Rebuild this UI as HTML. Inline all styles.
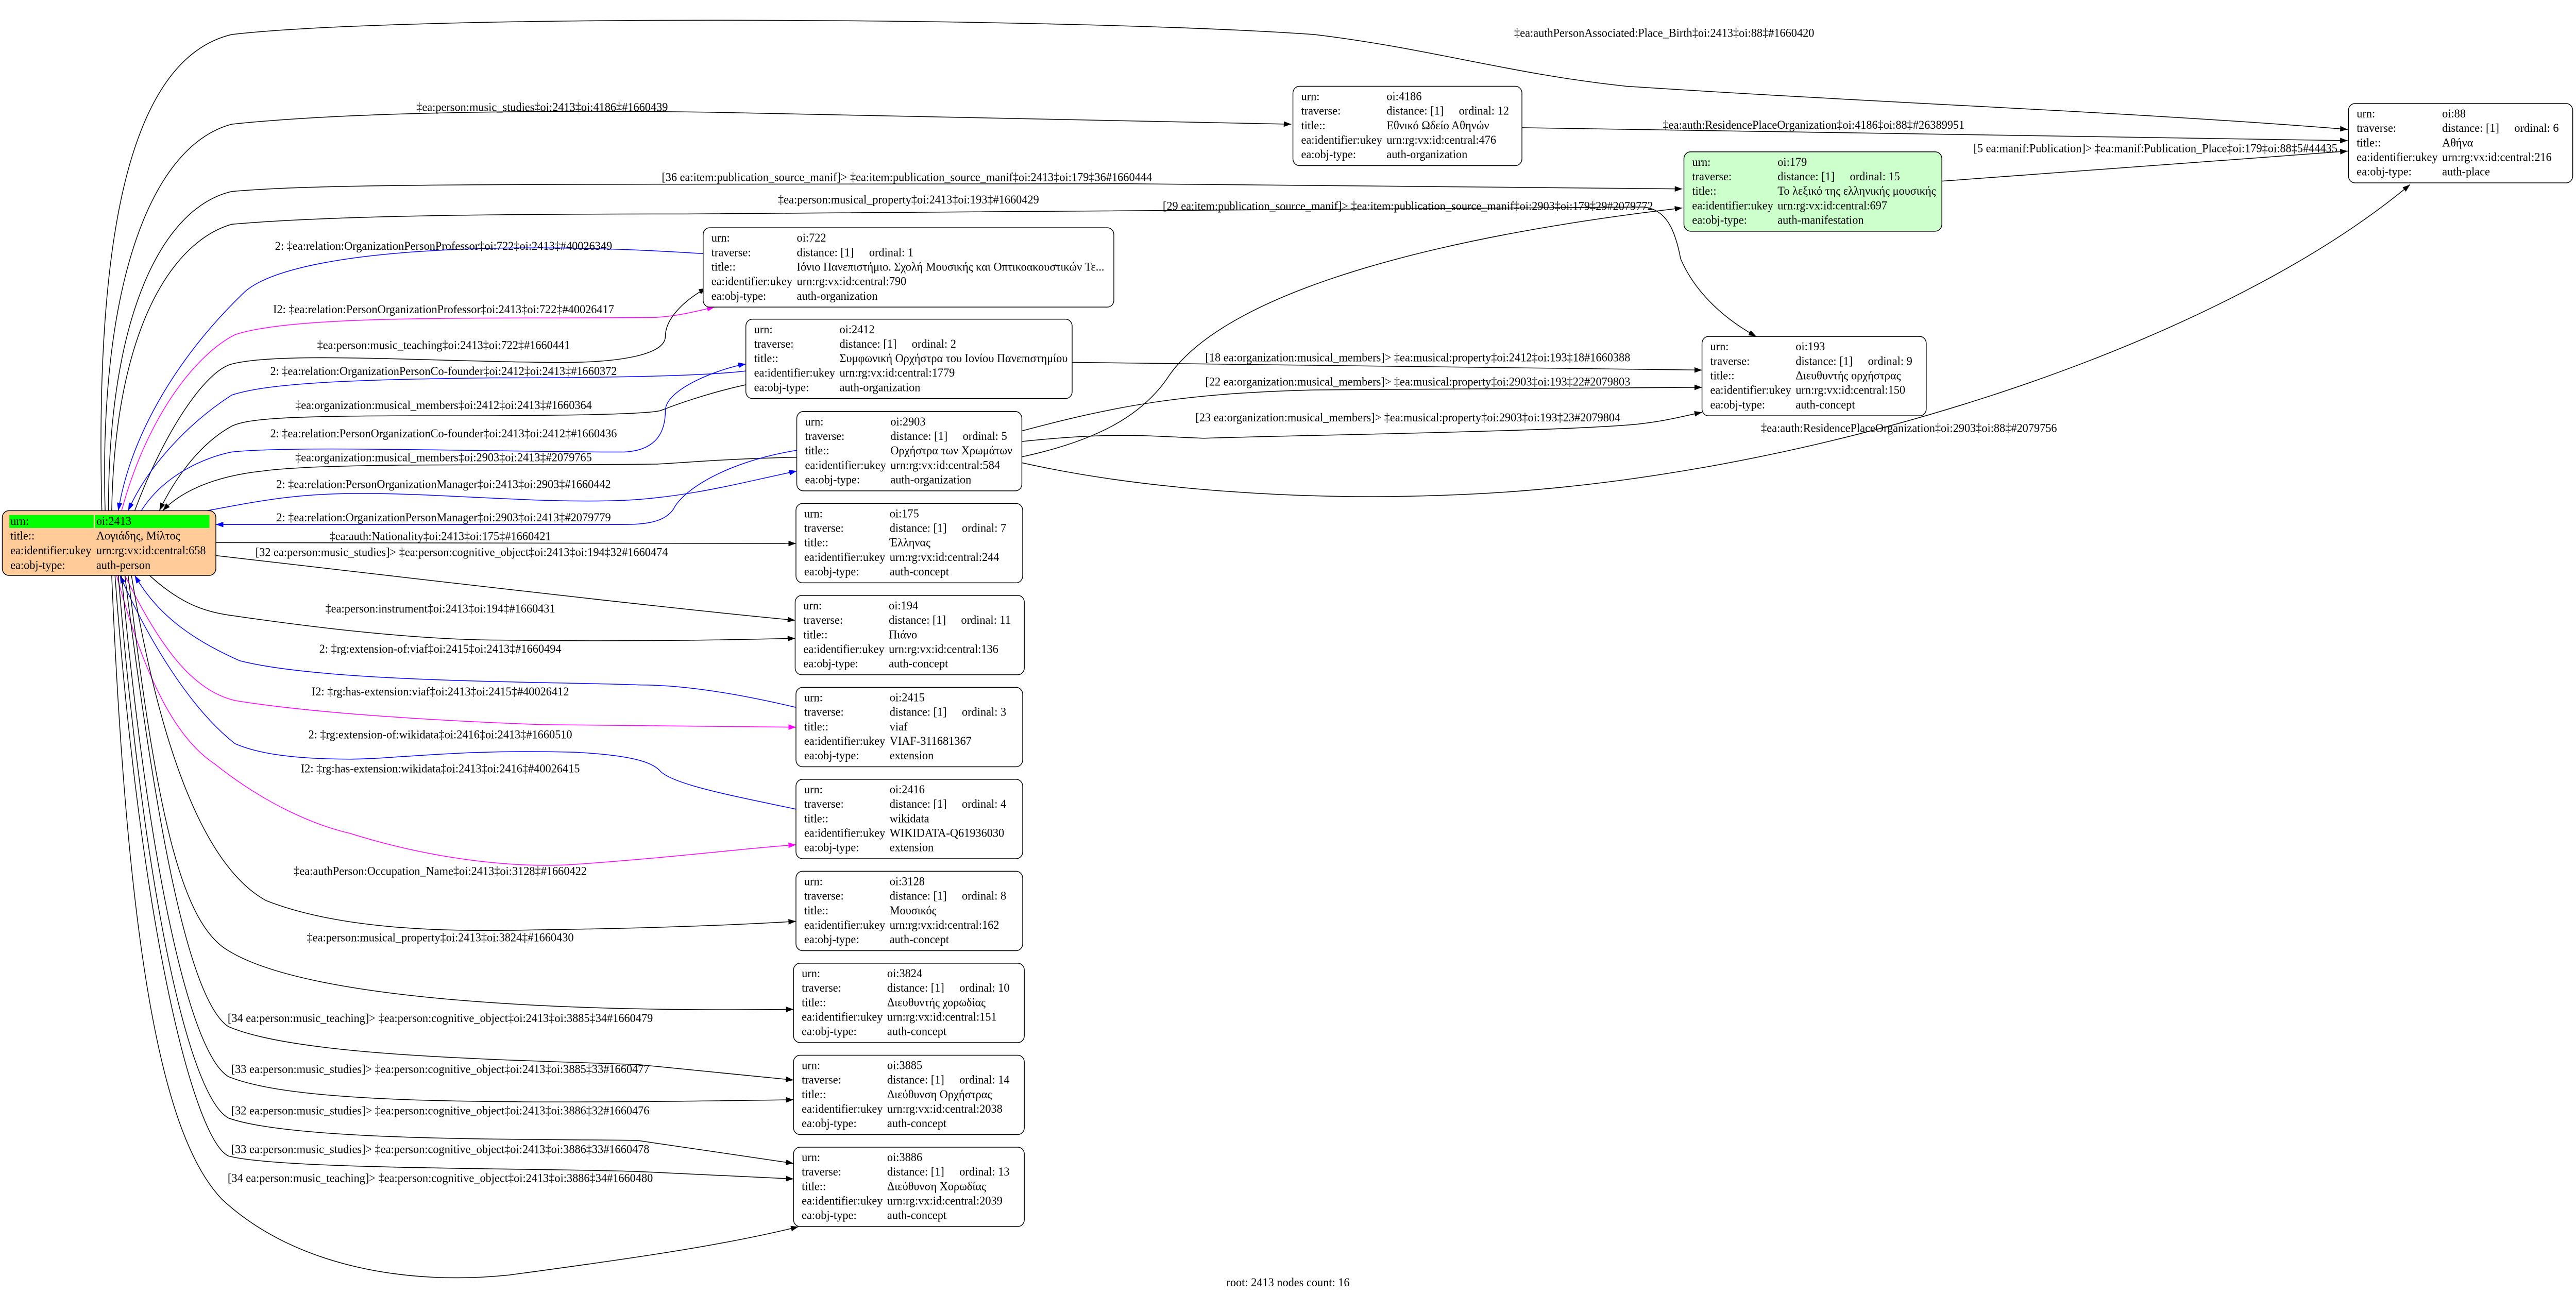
<!DOCTYPE html>
<html><head><meta charset="utf-8"><style>
html,body{margin:0;padding:0;background:#fff;overflow:hidden;width:100%;height:100%;}
svg{display:block;width:100vw;height:100vh;}
text{font-family:"Liberation Serif","DejaVu Serif",serif;font-size:7px;fill:#000;}
.e{fill:none;stroke-width:0.45;}
.k{stroke:#000;}.b{stroke:#0000ff;}.m{stroke:#ff00ff;}
.n{fill:#fff;stroke:#000;stroke-width:0.45;}
.l{text-anchor:middle;}
</style></head><body>
<svg viewBox="0 0 1568 750" preserveAspectRatio="none" xmlns="http://www.w3.org/2000/svg">
<defs>
<marker id="ak" markerUnits="userSpaceOnUse" markerWidth="4.6" markerHeight="3.2" viewBox="0 0 10 7" refX="10" refY="3.5" orient="auto"><path d="M0,0L10,3.5L0,7z" fill="#000"/></marker>
<marker id="ab" markerUnits="userSpaceOnUse" markerWidth="4.6" markerHeight="3.2" viewBox="0 0 10 7" refX="10" refY="3.5" orient="auto"><path d="M0,0L10,3.5L0,7z" fill="#0000ff"/></marker>
<marker id="am" markerUnits="userSpaceOnUse" markerWidth="4.6" markerHeight="3.2" viewBox="0 0 10 7" refX="10" refY="3.5" orient="auto"><path d="M0,0L10,3.5L0,7z" fill="#ff00ff"/></marker>
</defs>
<rect width="1568" height="750" fill="#fff"/>

<path class="e k" marker-end="url(#ak)" d="M62,296 C58,150 75,35 141,20 C250,8 650,10 800,20 C870,28 920,43 990,50 C1150,60 1300,65 1429,75"/>
<text class="l" x="1013" y="21.3">‡ea:authPersonAssociated:Place_Birth‡oi:2413‡oi:88‡#1660420</text>
<path class="e k" marker-end="url(#ak)" d="M64,296 C60,170 90,85 141,72 C220,64 350,64 430,65 L786,72"/>
<text class="l" x="330" y="64.3">‡ea:person:music_studies‡oi:2413‡oi:4186‡#1660439</text>
<path class="e k" marker-end="url(#ak)" d="M926,74 L1429,81.5"/>
<text class="l" x="1104" y="74.7">‡ea:auth:ResidencePlaceOrganization‡oi:4186‡oi:88‡#26389951</text>
<path class="e k" marker-end="url(#ak)" d="M1182,105 L1429,87.6"/>
<text class="l" x="1312" y="88.3">[5 ea:manif:Publication]&gt; ‡ea:manif:Publication_Place‡oi:179‡oi:88‡5#44435</text>
<path class="e k" marker-end="url(#ak)" d="M66,296 C66,180 100,120 141,111 C200,106 320,107 687,106.5 L1024,109.5"/>
<text class="l" x="552" y="105">[36 ea:item:publication_source_manif]&gt; ‡ea:item:publication_source_manif‡oi:2413‡oi:179‡36#1660444</text>
<path class="e k" marker-end="url(#ak)" d="M68,296 C70,190 105,140 141,130 C200,125 300,124 418,124 L1000,120 C1015,121 1020,135 1023,150 C1032,170 1050,185 1069,195"/>
<text class="l" x="553" y="118">‡ea:person:musical_property‡oi:2413‡oi:193‡#1660429</text>
<path class="e k" marker-end="url(#ak)" d="M621,265 C670,255 695,240 710,220 C740,175 850,140 1024,120.5"/>
<text class="l" x="857" y="121.7">[29 ea:item:publication_source_manif]&gt; ‡ea:item:publication_source_manif‡oi:2903‡oi:179‡29#2079772</text>
<path class="e k" marker-end="url(#ak)" d="M652.6,210 L1036,214.5"/>
<text class="l" x="863" y="209.5">[18 ea:organization:musical_members]&gt; ‡ea:musical:property‡oi:2412‡oi:193‡18#1660388</text>
<path class="e k" marker-end="url(#ak)" d="M621,250 C680,235 720,228 800,226 L1036,224.5"/>
<text class="l" x="863" y="223.5">[22 ea:organization:musical_members]&gt; ‡ea:musical:property‡oi:2903‡oi:193‡22#2079803</text>
<path class="e k" marker-end="url(#ak)" d="M621,256 C680,250 700,253 733,254 C800,252 950,250 995,246 C1015,244 1025,241 1036,239"/>
<text class="l" x="857" y="244.3">[23 ea:organization:musical_members]&gt; ‡ea:musical:property‡oi:2903‡oi:193‡23#2079804</text>
<path class="e k" marker-end="url(#ak)" d="M621,268 C700,285 800,290 880,287 C1100,280 1350,200 1467,107"/>
<text class="l" x="1162" y="250.3">‡ea:auth:ResidencePlaceOrganization‡oi:2903‡oi:88‡#2079756</text>

<path class="e b" marker-end="url(#ab)" d="M428,147 C300,139 175,145 148,170 C110,205 80,250 72,296"/>
<text class="l" x="270" y="144.8">2: ‡ea:relation:OrganizationPersonProfessor‡oi:722‡oi:2413‡#40026349</text>
<path class="e m" marker-end="url(#am)" d="M74,296 C90,240 120,205 143,194 C180,182 300,185 399,184 C415,183 425,180 435,178"/>
<text class="l" x="270" y="181.6">I2: ‡ea:relation:PersonOrganizationProfessor‡oi:2413‡oi:722‡#40026417</text>
<path class="e k" marker-end="url(#ak)" d="M82,296 C100,250 125,215 141,211 C170,204 250,209 330,210 C380,211 405,205 405,195 C405,183 420,172 430,167"/>
<text class="l" x="270" y="202.3">‡ea:person:music_teaching‡oi:2413‡oi:722‡#1660441</text>
<path class="e b" marker-end="url(#ab)" d="M454,215 C420,219 330,219 300,219 C200,220 160,223 141,229 C115,245 90,270 78,296"/>
<text class="l" x="270" y="217.3">2: ‡ea:relation:OrganizationPersonCo-founder‡oi:2412‡oi:2413‡#1660372</text>
<path class="e k" marker-end="url(#ak)" d="M454,223 C430,228 410,235 402,238 C390,241 300,241 250,241 C170,241 150,243 141,247 C120,258 105,280 97,296"/>
<text class="l" x="270" y="237">‡ea:organization:musical_members‡oi:2412‡oi:2413‡#1660364</text>
<path class="e b" marker-end="url(#ab)" d="M86,296 C100,275 125,265 141,262 C180,258 300,262 380,262 C400,261 405,250 405,238 C405,225 440,213 454,211"/>
<text class="l" x="270" y="253.5">2: ‡ea:relation:PersonOrganizationCo-founder‡oi:2413‡oi:2412‡#1660436</text>
<path class="e k" marker-end="url(#ak)" d="M485,265 C440,266 420,268 400,269 C300,270 200,268 160,273 C130,276 110,285 99,296"/>
<text class="l" x="270" y="267.3">‡ea:organization:musical_members‡oi:2903‡oi:2413‡#2079765</text>
<path class="e b" marker-end="url(#ab)" d="M126,296 C160,290 180,286 220,286 C270,286 330,292 380,290 C420,288 450,280 485,273"/>
<text class="l" x="270" y="282.9">2: ‡ea:relation:PersonOrganizationManager‡oi:2413‡oi:2903‡#1660442</text>
<path class="e b" marker-end="url(#ab)" d="M485,261 C440,268 415,285 410,295 C405,302 395,304 380,304 L131.4,304"/>
<text class="l" x="270" y="302.1">2: ‡ea:relation:OrganizationPersonManager‡oi:2903‡oi:2413‡#2079779</text>
<path class="e k" marker-end="url(#ak)" d="M131.4,314.5 L484.5,315"/>
<text class="l" x="268" y="313">‡ea:auth:Nationality‡oi:2413‡oi:175‡#1660421</text>
<path class="e k" marker-end="url(#ak)" d="M131.4,322 C250,335 400,352 484,359.5"/>
<text class="l" x="281" y="322.3">[32 ea:person:music_studies]&gt; ‡ea:person:cognitive_object‡oi:2413‡oi:194‡32#1660474</text>
<path class="e k" marker-end="url(#ak)" d="M91,333.5 C110,350 125,355 143,357 C200,365 260,371 305,371 C380,372 440,371 484,370"/>
<text class="l" x="268" y="355">‡ea:person:instrument‡oi:2413‡oi:194‡#1660431</text>
<path class="e b" marker-end="url(#ab)" d="M484.5,410 C440,400 410,397 390,397 C340,395 200,396 146,383 C115,370 95,355 82,333.5"/>
<text class="l" x="268" y="378.3">2: ‡rg:extension-of:viaf‡oi:2415‡oi:2413‡#1660494</text>
<path class="e m" marker-end="url(#am)" d="M76,333.5 C95,370 115,400 143,406 C200,415 300,419 330,420 C400,421 450,421 484.5,421.5"/>
<text class="l" x="268" y="403.1">I2: ‡rg:has-extension:viaf‡oi:2413‡oi:2415‡#40026412</text>
<path class="e b" marker-end="url(#ab)" d="M484.5,469 C450,462 410,455 402,447 C398,443 390,438 350,436 C280,434 240,440 213,440 C175,440 155,436 143,431 C115,410 90,370 73,333.5"/>
<text class="l" x="268" y="428">2: ‡rg:extension-of:wikidata‡oi:2416‡oi:2413‡#1660510</text>
<path class="e m" marker-end="url(#am)" d="M71,333.5 C90,400 110,430 131,443 C160,465 190,478 213,483 C270,500 320,503 350,501 C410,497 450,492 484.5,489.6"/>
<text class="l" x="268" y="447.7">I2: ‡rg:has-extension:wikidata‡oi:2413‡oi:2416‡#40026415</text>
<path class="e k" marker-end="url(#ak)" d="M80,333.5 C95,420 120,500 162,522 C210,540 280,540 324,539 C400,538 450,536 484.5,534"/>
<text class="l" x="268" y="507.1">‡ea:authPerson:Occupation_Name‡oi:2413‡oi:3128‡#1660422</text>
<path class="e k" marker-end="url(#ak)" d="M78,333.5 C95,470 110,535 139,551 C180,575 300,587 483,585"/>
<text class="l" x="268" y="545.7">‡ea:person:musical_property‡oi:2413‡oi:3824‡#1660430</text>
<path class="e k" marker-end="url(#ak)" d="M76,333.5 C95,480 115,580 139,595 C180,612 300,614 388,617 L483,626"/>
<text class="l" x="268" y="592.4">[34 ea:person:music_teaching]&gt; ‡ea:person:cognitive_object‡oi:2413‡oi:3885‡34#1660479</text>
<path class="e k" marker-end="url(#ak)" d="M74,333.5 C90,500 115,610 139,624 C180,640 300,640 483,637.4"/>
<text class="l" x="268" y="621.9">[33 ea:person:music_studies]&gt; ‡ea:person:cognitive_object‡oi:2413‡oi:3885‡33#1660477</text>
<path class="e k" marker-end="url(#ak)" d="M72,333.5 C88,520 115,635 139,648 C180,662 330,660 388,661 L483,674.3"/>
<text class="l" x="268" y="646">[32 ea:person:music_studies]&gt; ‡ea:person:cognitive_object‡oi:2413‡oi:3886‡32#1660476</text>
<path class="e k" marker-end="url(#ak)" d="M70,333.5 C86,540 118,660 139,670 C170,678 330,677 388,679 L483,683.3"/>
<text class="l" x="268" y="668.3">[33 ea:person:music_studies]&gt; ‡ea:person:cognitive_object‡oi:2413‡oi:3886‡33#1660478</text>
<path class="e k" marker-end="url(#ak)" d="M68,333.5 C78,560 100,660 135,695 C180,735 250,745 310,739 C380,730 440,722 486,711"/>
<text class="l" x="268" y="685">[34 ea:person:music_teaching]&gt; ‡ea:person:cognitive_object‡oi:2413‡oi:3886‡34#1660480</text>

<rect x="1.4" y="296" width="130" height="37.5" rx="4" fill="#ffcc99" stroke="#000" stroke-width="0.45"/>
<rect x="5.7" y="298.5" width="51.3" height="7.5" fill="#00ff00"/>
<rect x="57.7" y="298.5" width="69.8" height="7.5" fill="#00ff00"/>
<text x="6.3" y="304.3">urn:</text><text x="58.6" y="304.3">oi:2413</text>
<text x="6.3" y="312.8">title::</text><text x="58.6" y="312.8">Λογιάδης, Μίλτος</text>
<text x="6.3" y="321.2">ea:identifier:ukey</text><text x="58.6" y="321.2">urn:rg:vx:id:central:658</text>
<text x="6.3" y="329.7">ea:obj-type:</text><text x="58.6" y="329.7">auth-person</text>

<g transform="translate(787,50)"><rect class="n" width="139.4" height="46" rx="4"/>
<text x="5" y="8.1">urn:</text><text x="57" y="8.1">oi:4186</text>
<text x="5" y="16.5">traverse:</text><text x="57" y="16.5">distance: [1]</text><text x="101" y="16.5">ordinal: 12</text>
<text x="5" y="24.9">title::</text><text x="57" y="24.9">Εθνικό Ωδείο Αθηνών</text>
<text x="5" y="33.3">ea:identifier:ukey</text><text x="57" y="33.3">urn:rg:vx:id:central:476</text>
<text x="5" y="41.7">ea:obj-type:</text><text x="57" y="41.7">auth-organization</text></g>

<g transform="translate(1429.5,60)"><rect class="n" width="136.5" height="46" rx="4"/>
<text x="5" y="8.1">urn:</text><text x="57" y="8.1">oi:88</text>
<text x="5" y="16.5">traverse:</text><text x="57" y="16.5">distance: [1]</text><text x="101" y="16.5">ordinal: 6</text>
<text x="5" y="24.9">title::</text><text x="57" y="24.9">Αθήνα</text>
<text x="5" y="33.3">ea:identifier:ukey</text><text x="57" y="33.3">urn:rg:vx:id:central:216</text>
<text x="5" y="41.7">ea:obj-type:</text><text x="57" y="41.7">auth-place</text></g>

<g transform="translate(1025,88)"><rect class="n" width="157" height="46" rx="4" style="fill:#ccffcc"/>
<text x="5" y="8.1">urn:</text><text x="57" y="8.1">oi:179</text>
<text x="5" y="16.5">traverse:</text><text x="57" y="16.5">distance: [1]</text><text x="101" y="16.5">ordinal: 15</text>
<text x="5" y="24.9">title::</text><text x="57" y="24.9">Το λεξικό της ελληνικής μουσικής</text>
<text x="5" y="33.3">ea:identifier:ukey</text><text x="57" y="33.3">urn:rg:vx:id:central:697</text>
<text x="5" y="41.7">ea:obj-type:</text><text x="57" y="41.7">auth-manifestation</text></g>

<g transform="translate(428,132)"><rect class="n" width="250" height="46" rx="4"/>
<text x="5" y="8.1">urn:</text><text x="57" y="8.1">oi:722</text>
<text x="5" y="16.5">traverse:</text><text x="57" y="16.5">distance: [1]</text><text x="101" y="16.5">ordinal: 1</text>
<text x="5" y="24.9">title::</text><text x="57" y="24.9">Ιόνιο Πανεπιστήμιο. Σχολή Μουσικής και Οπτικοακουστικών Τε...</text>
<text x="5" y="33.3">ea:identifier:ukey</text><text x="57" y="33.3">urn:rg:vx:id:central:790</text>
<text x="5" y="41.7">ea:obj-type:</text><text x="57" y="41.7">auth-organization</text></g>

<g transform="translate(454,185)"><rect class="n" width="198.6" height="46" rx="4"/>
<text x="5" y="8.1">urn:</text><text x="57" y="8.1">oi:2412</text>
<text x="5" y="16.5">traverse:</text><text x="57" y="16.5">distance: [1]</text><text x="101" y="16.5">ordinal: 2</text>
<text x="5" y="24.9">title::</text><text x="57" y="24.9">Συμφωνική Ορχήστρα του Ιονίου Πανεπιστημίου</text>
<text x="5" y="33.3">ea:identifier:ukey</text><text x="57" y="33.3">urn:rg:vx:id:central:1779</text>
<text x="5" y="41.7">ea:obj-type:</text><text x="57" y="41.7">auth-organization</text></g>

<g transform="translate(1036,195)"><rect class="n" width="136.5" height="46" rx="4"/>
<text x="5" y="8.1">urn:</text><text x="57" y="8.1">oi:193</text>
<text x="5" y="16.5">traverse:</text><text x="57" y="16.5">distance: [1]</text><text x="101" y="16.5">ordinal: 9</text>
<text x="5" y="24.9">title::</text><text x="57" y="24.9">Διευθυντής ορχήστρας</text>
<text x="5" y="33.3">ea:identifier:ukey</text><text x="57" y="33.3">urn:rg:vx:id:central:150</text>
<text x="5" y="41.7">ea:obj-type:</text><text x="57" y="41.7">auth-concept</text></g>

<g transform="translate(485,238.5)"><rect class="n" width="137" height="46" rx="4"/>
<text x="5" y="8.1">urn:</text><text x="57" y="8.1">oi:2903</text>
<text x="5" y="16.5">traverse:</text><text x="57" y="16.5">distance: [1]</text><text x="101" y="16.5">ordinal: 5</text>
<text x="5" y="24.9">title::</text><text x="57" y="24.9">Ορχήστρα των Χρωμάτων</text>
<text x="5" y="33.3">ea:identifier:ukey</text><text x="57" y="33.3">urn:rg:vx:id:central:584</text>
<text x="5" y="41.7">ea:obj-type:</text><text x="57" y="41.7">auth-organization</text></g>

<g transform="translate(484.5,291.8)"><rect class="n" width="138" height="46" rx="4"/>
<text x="5" y="8.1">urn:</text><text x="57" y="8.1">oi:175</text>
<text x="5" y="16.5">traverse:</text><text x="57" y="16.5">distance: [1]</text><text x="101" y="16.5">ordinal: 7</text>
<text x="5" y="24.9">title::</text><text x="57" y="24.9">Έλληνας</text>
<text x="5" y="33.3">ea:identifier:ukey</text><text x="57" y="33.3">urn:rg:vx:id:central:244</text>
<text x="5" y="41.7">ea:obj-type:</text><text x="57" y="41.7">auth-concept</text></g>

<g transform="translate(484,345.1)"><rect class="n" width="139.5" height="46" rx="4"/>
<text x="5" y="8.1">urn:</text><text x="57" y="8.1">oi:194</text>
<text x="5" y="16.5">traverse:</text><text x="57" y="16.5">distance: [1]</text><text x="101" y="16.5">ordinal: 11</text>
<text x="5" y="24.9">title::</text><text x="57" y="24.9">Πιάνο</text>
<text x="5" y="33.3">ea:identifier:ukey</text><text x="57" y="33.3">urn:rg:vx:id:central:136</text>
<text x="5" y="41.7">ea:obj-type:</text><text x="57" y="41.7">auth-concept</text></g>

<g transform="translate(484.5,398.4)"><rect class="n" width="138" height="46" rx="4"/>
<text x="5" y="8.1">urn:</text><text x="57" y="8.1">oi:2415</text>
<text x="5" y="16.5">traverse:</text><text x="57" y="16.5">distance: [1]</text><text x="101" y="16.5">ordinal: 3</text>
<text x="5" y="24.9">title::</text><text x="57" y="24.9">viaf</text>
<text x="5" y="33.3">ea:identifier:ukey</text><text x="57" y="33.3">VIAF-311681367</text>
<text x="5" y="41.7">ea:obj-type:</text><text x="57" y="41.7">extension</text></g>

<g transform="translate(484.5,451.7)"><rect class="n" width="138" height="46" rx="4"/>
<text x="5" y="8.1">urn:</text><text x="57" y="8.1">oi:2416</text>
<text x="5" y="16.5">traverse:</text><text x="57" y="16.5">distance: [1]</text><text x="101" y="16.5">ordinal: 4</text>
<text x="5" y="24.9">title::</text><text x="57" y="24.9">wikidata</text>
<text x="5" y="33.3">ea:identifier:ukey</text><text x="57" y="33.3">WIKIDATA-Q61936030</text>
<text x="5" y="41.7">ea:obj-type:</text><text x="57" y="41.7">extension</text></g>

<g transform="translate(484.5,505)"><rect class="n" width="138" height="46" rx="4"/>
<text x="5" y="8.1">urn:</text><text x="57" y="8.1">oi:3128</text>
<text x="5" y="16.5">traverse:</text><text x="57" y="16.5">distance: [1]</text><text x="101" y="16.5">ordinal: 8</text>
<text x="5" y="24.9">title::</text><text x="57" y="24.9">Μουσικός</text>
<text x="5" y="33.3">ea:identifier:ukey</text><text x="57" y="33.3">urn:rg:vx:id:central:162</text>
<text x="5" y="41.7">ea:obj-type:</text><text x="57" y="41.7">auth-concept</text></g>

<g transform="translate(483,558.3)"><rect class="n" width="140.5" height="46" rx="4"/>
<text x="5" y="8.1">urn:</text><text x="57" y="8.1">oi:3824</text>
<text x="5" y="16.5">traverse:</text><text x="57" y="16.5">distance: [1]</text><text x="101" y="16.5">ordinal: 10</text>
<text x="5" y="24.9">title::</text><text x="57" y="24.9">Διευθυντής χορωδίας</text>
<text x="5" y="33.3">ea:identifier:ukey</text><text x="57" y="33.3">urn:rg:vx:id:central:151</text>
<text x="5" y="41.7">ea:obj-type:</text><text x="57" y="41.7">auth-concept</text></g>

<g transform="translate(483,611.6)"><rect class="n" width="140.5" height="46" rx="4"/>
<text x="5" y="8.1">urn:</text><text x="57" y="8.1">oi:3885</text>
<text x="5" y="16.5">traverse:</text><text x="57" y="16.5">distance: [1]</text><text x="101" y="16.5">ordinal: 14</text>
<text x="5" y="24.9">title::</text><text x="57" y="24.9">Διεύθυνση Ορχήστρας</text>
<text x="5" y="33.3">ea:identifier:ukey</text><text x="57" y="33.3">urn:rg:vx:id:central:2038</text>
<text x="5" y="41.7">ea:obj-type:</text><text x="57" y="41.7">auth-concept</text></g>

<g transform="translate(483,664.9)"><rect class="n" width="140.5" height="46" rx="4"/>
<text x="5" y="8.1">urn:</text><text x="57" y="8.1">oi:3886</text>
<text x="5" y="16.5">traverse:</text><text x="57" y="16.5">distance: [1]</text><text x="101" y="16.5">ordinal: 13</text>
<text x="5" y="24.9">title::</text><text x="57" y="24.9">Διεύθυνση Χορωδίας</text>
<text x="5" y="33.3">ea:identifier:ukey</text><text x="57" y="33.3">urn:rg:vx:id:central:2039</text>
<text x="5" y="41.7">ea:obj-type:</text><text x="57" y="41.7">auth-concept</text></g>

<text class="l" x="784" y="745.5">root: 2413 nodes count: 16</text>
</svg>
</body></html>
